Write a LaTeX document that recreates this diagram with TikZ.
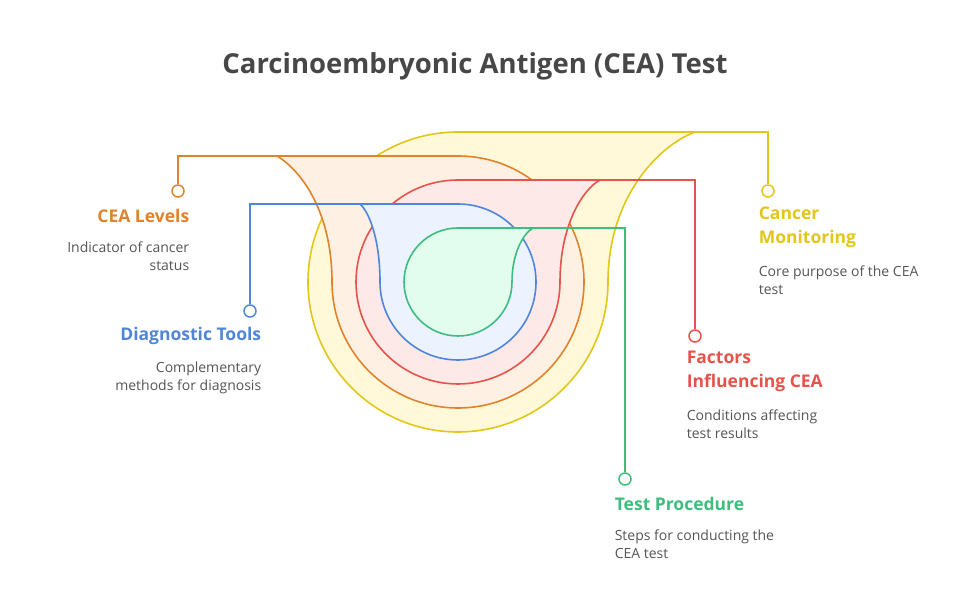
\documentclass[tikz,border=0pt]{standalone}
\usepackage{fontspec}
\setmainfont{Open Sans}
\usetikzlibrary{positioning}
\definecolor{cyel}{HTML}{E2C619}\definecolor{fyel}{HTML}{FFF9D9}
\definecolor{corg}{HTML}{E0832A}\definecolor{forg}{HTML}{FEF0E3}
\definecolor{cred}{HTML}{E5534B}\definecolor{fred}{HTML}{FDE9E8}
\definecolor{cblu}{HTML}{4F86DB}\definecolor{fblu}{HTML}{ECF3FE}
\definecolor{cgrn}{HTML}{3DBE7F}\definecolor{fgrn}{HTML}{E2FCEE}
\definecolor{ctxt}{HTML}{555555}
\begin{document}
\begin{tikzpicture}[x=1pt,y=1pt,line width=1.6pt]
\tikzstyle{dot} = [
	shape=circle,
	fill=white,
	line width=1.5pt,
	minimum size=12pt,
	inner sep=0pt
];
\tikzstyle{head} = [font=\fontsize{17.5}{24}\selectfont\bfseries, inner sep=0pt];
\tikzstyle{desc} = [font=\fontsize{14}{18}\selectfont, text=ctxt, inner sep=0pt];

\useasboundingbox (0,0) rectangle (960,612);
\node[font=\fontsize{27.5}{30}\selectfont\bfseries, text=black!72](title) at (475,546) {Carcinoembryonic Antigen (CEA) Test};

%rings
\draw[cyel, fill=fyel] (458,180) arc[start angle=270,end angle=90,radius=150] -- (695,480)
	.. controls (656,465) and (608,412) .. (608,330) arc[start angle=0,end angle=-90,radius=150] -- cycle;
\draw[corg, fill=forg] (458,456) -- (277,456)
	.. controls (302,441) and (332,399) .. (332,330) arc[start angle=180,end angle=450,radius=126] -- cycle;
\draw[cred, fill=fred] (458,228) arc[start angle=270,end angle=90,radius=102] -- (600,432)
	.. controls (582,422) and (560,386) .. (560,330) arc[start angle=0,end angle=-90,radius=102] -- cycle;
\draw[cblu, fill=fblu] (458,408) -- (360,408)
	.. controls (369,400) and (380,373) .. (380,330) arc[start angle=180,end angle=450,radius=78] -- cycle;
\draw[cgrn, fill=fgrn] (458,276) arc[start angle=270,end angle=90,radius=54] -- (533,384)
	.. controls (524,379) and (512,360) .. (512,330) arc[start angle=0,end angle=-90,radius=54] -- cycle;

%leaders
\coordinate (Ty) at (695,480); \coordinate (To) at (277,456); \coordinate (Tr) at (600,432);
\coordinate (Tb) at (360,408); \coordinate (Tg) at (533,384);
\node[dot, draw=cyel](Dy) at (768,421) {};
\node[dot, draw=corg](Do) at (178,421) {};
\node[dot, draw=cred](Dr) at (695,276) {};
\node[dot, draw=cblu](Db) at (250,301) {};
\node[dot, draw=cgrn](Dg) at (625,133) {};
\draw[cyel] (Ty) -| (Dy);
\draw[corg] (To) -| (Do);
\draw[cred] (Tr) -| (Dr);
\draw[cblu] (Tb) -| (Db);
\draw[cgrn] (Tg) -| (Dg);

%texts
\node[head, text=corg, anchor=east](Lo) at (190,396) {CEA Levels};
\node[desc, anchor=north east, align=right](Co) at (190,371) {Indicator of cancer\\status};
\node[head, text=cblu, anchor=east](Lb) at (262,276) {Diagnostic Tools};
\node[desc, anchor=north east, align=right](Cb) at (262,251) {Complementary\\methods for diagnosis};
\node[head, text=cyel, anchor=north west, align=left](Ly) at (758,406) {Cancer\\Monitoring};
\node[desc, anchor=north west, align=left](Cy) at (758,347) {Core purpose of the CEA\\test};
\node[head, text=cred, anchor=north west, align=left](Lr) at (686,262) {Factors\\Influencing CEA};
\node[desc, anchor=north west, align=left](Cr) at (686,203) {Conditions affecting\\test results};
\node[head, text=cgrn, anchor=west](Lg) at (614,108) {Test Procedure};
\node[desc, anchor=north west, align=left](Cg) at (614,83) {Steps for conducting the\\CEA test};
\end{tikzpicture}
\end{document}
